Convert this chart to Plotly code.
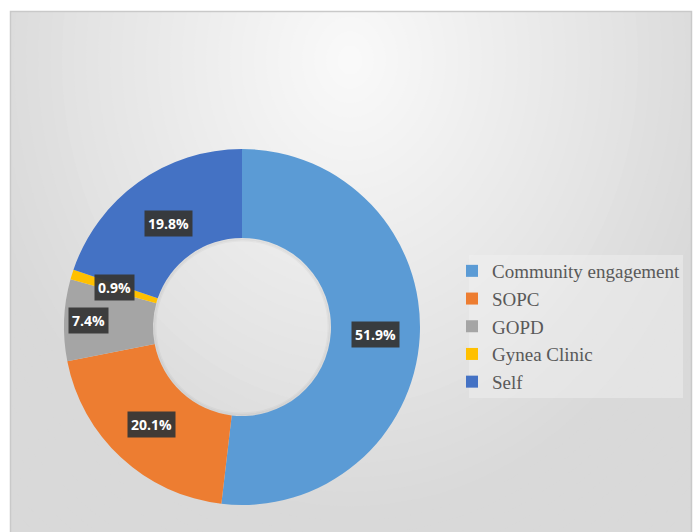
import math
import plotly.graph_objects as go

# ---- data ----
categories = ["Community engagement", "SOPC", "GOPD", "Gynea Clinic", "Self"]
values = [51.9, 20.1, 7.4, 0.9, 19.8]
label_texts = ["51.9%", "20.1%", "7.4%", "0.9%", "19.8%"]

# ---- style ----
colors = ["#5B9BD5", "#ED7D31", "#A5A5A5", "#FFC000", "#4472C4"]
label_radial_factor = [1.0, 1.0, 1.15, 1.0, 0.95]
W, H = 696, 532
cx, cy = 242, 327          # donut centre (px)
R_OUT = 178                # outer radius (px)
HOLE = 0.5


def px(x):
    return x / W


def py(y):
    return 1 - y / H


shapes = []
# radial gradient background (chart area)
gcx, gcy = 350, 60
N = 45
dmax = 1.35
for i in range(N):
    d = dmax * (1 - i / N)
    c = int(round(max(217, min(250, 250 - 34 * d))))
    shapes.append(dict(type="circle", xref="paper", yref="paper", layer="below",
                       x0=px(gcx - 400 * d), x1=px(gcx + 400 * d),
                       y0=py(gcy + 480 * d), y1=py(gcy - 480 * d),
                       fillcolor=f"rgb({c},{c},{c})", line=dict(width=0)))
# white outside chart area
shapes.append(dict(type="rect", xref="paper", yref="paper", layer="below",
                   x0=-0.1, x1=px(10), y0=-0.1, y1=1.1, fillcolor="white", line=dict(width=0)))
shapes.append(dict(type="rect", xref="paper", yref="paper", layer="below",
                   x0=-0.1, x1=1.1, y0=py(11), y1=1.1, fillcolor="white", line=dict(width=0)))
shapes.append(dict(type="rect", xref="paper", yref="paper", layer="below",
                   x0=px(692), x1=1.1, y0=-0.1, y1=1.1, fillcolor="white", line=dict(width=0)))
# chart-area border
shapes.append(dict(type="rect", xref="paper", yref="paper", layer="below",
                   x0=px(10.5), x1=px(691.5), y0=py(540), y1=py(11.5),
                   fillcolor="rgba(0,0,0,0)", line=dict(color="#c9c9c9", width=1.5)))
# legend box
shapes.append(dict(type="rect", xref="paper", yref="paper", layer="below",
                   x0=px(469), x1=px(683), y0=py(398), y1=py(255),
                   fillcolor="rgba(242,242,242,0.45)", line=dict(width=0)))
# subtle inner shadow of the hole
r_in = R_OUT * HOLE
for k, a in [(1.0, 0.05), (2.5, 0.03)]:
    shapes.append(dict(type="circle", xref="paper", yref="paper", layer="above",
                       x0=px(cx - r_in + k), x1=px(cx + r_in - k),
                       y0=py(cy + r_in - k), y1=py(cy - r_in + k),
                       fillcolor="rgba(0,0,0,0)", line=dict(color=f"rgba(0,0,0,{a})", width=2)))

fig = go.Figure(go.Pie(
    labels=categories, values=values, hole=HOLE, sort=False,
    direction="clockwise", rotation=0,
    marker=dict(colors=colors, line=dict(width=0)),
    textinfo="none", hoverinfo="label+percent",
    domain=dict(x=[px(cx - R_OUT), px(cx + R_OUT)], y=[py(cy + R_OUT), py(cy - R_OUT)]),
))

# data labels (dark boxes) placed at slice mid-angles
annotations = []
total = sum(values)
cum = 0.0
r_mid = (R_OUT + r_in) / 2
for v, t, f in zip(values, label_texts, label_radial_factor):
    mid = (cum + v / 2) / total * 2 * math.pi
    cum += v
    r = r_mid * f
    x = cx + r * math.sin(mid)
    y = cy - r * math.cos(mid)
    annotations.append(dict(x=px(x), y=py(y), xref="paper", yref="paper", showarrow=False,
                            text=f"<b>{t}</b>", font=dict(family="Open Sans", size=14, color="white"),
                            bgcolor="rgba(55,55,55,0.95)", borderpad=3,
                            xanchor="center", yanchor="middle"))

fig.update_layout(
    width=W, height=H, margin=dict(l=0, r=0, t=0, b=0),
    paper_bgcolor="white", plot_bgcolor="rgba(0,0,0,0)",
    shapes=shapes, annotations=annotations,
    showlegend=True,
    legend=dict(x=px(452), y=py(252), xanchor="left", yanchor="top",
                bgcolor="rgba(0,0,0,0)", borderwidth=0,
                font=dict(family="Liberation Serif", size=19, color="#595959"),
                itemwidth=30, tracegroupgap=0),
)

fig.write_html("out.html")
